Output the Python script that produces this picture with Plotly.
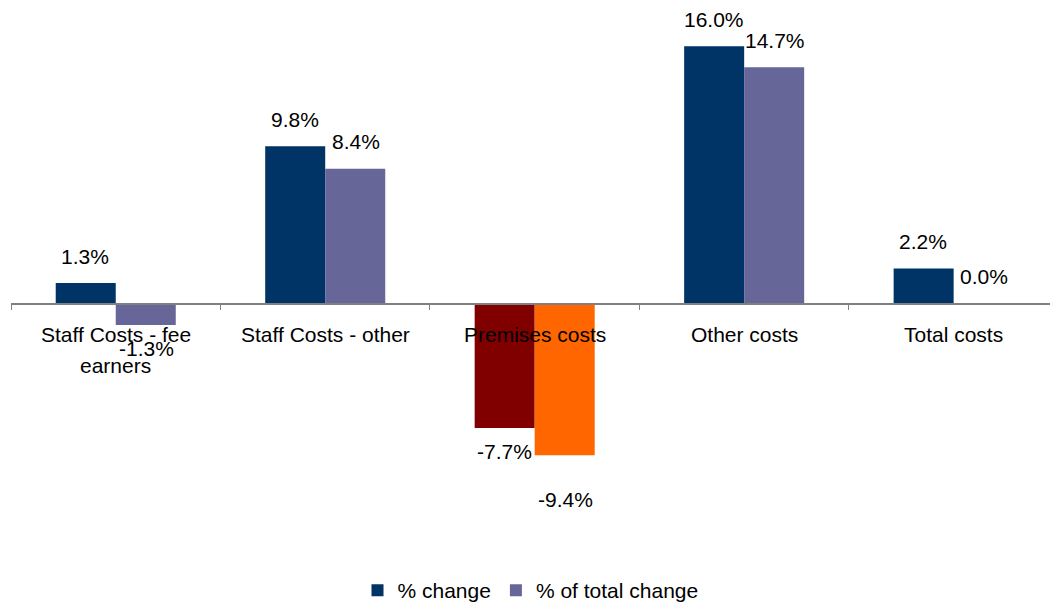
import plotly.graph_objects as go

# Cost categories and the two series (percent)
categories = ["Staff Costs - fee earners", "Staff Costs - other", "Premises costs",
              "Other costs", "Total costs"]
tick_label_lines = [["Staff Costs - fee", "earners"], ["Staff Costs - other"],
                    ["Premises costs"], ["Other costs"], ["Total costs"]]
pct_change = [1.3, 9.8, -7.7, 16.0, 2.2]
pct_of_total_change = [-1.3, 8.4, -9.4, 14.7, 0.0]

# Bar colours (Premises costs is highlighted)
change_colors = ["#003366", "#003366", "#800000", "#003366", "#003366"]
total_colors = ["#666699", "#666699", "#FF6600", "#666699", "#666699"]

FONT = "Liberation Sans, Arial, sans-serif"
FS = 21
Y_MIN, Y_MAX = -15.9, 18.88

fig = go.Figure()
fig.add_trace(go.Bar(x=categories, y=pct_change, name="% change",
                     marker=dict(color=change_colors, line=dict(width=0))))
fig.add_trace(go.Bar(x=categories, y=pct_of_total_change, name="% of total change",
                     marker=dict(color=total_colors, line=dict(width=0))))

# Value labels beside the ends of the bars
offset = 30.5 / 209.5
extra_shift = {(2, 1): -20}
for i in range(len(categories)):
    for j, (vals, dx) in enumerate(((pct_change, -offset), (pct_of_total_change, offset))):
        v = vals[i]
        shift = 27 if v >= 0 else -24
        shift += extra_shift.get((i, j), 0)
        fig.add_annotation(x=i + dx, y=v, xref="x", yref="y", text=f"{v:.1f}%",
                           showarrow=False, yshift=shift, yanchor="middle",
                           font=dict(family=FONT, size=FS, color="#000000"))

# Category labels just under the zero axis line
for i, lines in enumerate(tick_label_lines):
    for k, line in enumerate(lines):
        fig.add_annotation(x=i, y=0, xref="x", yref="y", text=line, showarrow=False,
                           yanchor="middle", yshift=-31 - 31 * k,
                           font=dict(family=FONT, size=FS, color="#000000"))

fig.update_layout(
    width=1050, height=604,
    margin=dict(l=11, r=0, t=0, b=44, autoexpand=False),
    paper_bgcolor="white", plot_bgcolor="white",
    barmode="group", bargap=0.427, bargroupgap=0,
    font=dict(family=FONT, size=FS, color="#000000"),
    showlegend=True,
    legend=dict(orientation="h", x=0.5, xanchor="center", y=-0.018, yanchor="top",
                font=dict(family=FONT, size=FS), itemwidth=30, traceorder="normal"),
    xaxis=dict(
        type="category", range=[-0.5, 4.46],
        anchor="free", position=(0 - Y_MIN) / (Y_MAX - Y_MIN),
        showline=True, linecolor="#808080", linewidth=1.5,
        ticks="outside", tickson="boundaries", ticklen=5, tickcolor="#808080",
        showticklabels=False, showgrid=False, zeroline=False,
    ),
    yaxis=dict(range=[Y_MIN, Y_MAX], visible=False, showgrid=False, zeroline=False),
)

fig.write_html("out.html")
